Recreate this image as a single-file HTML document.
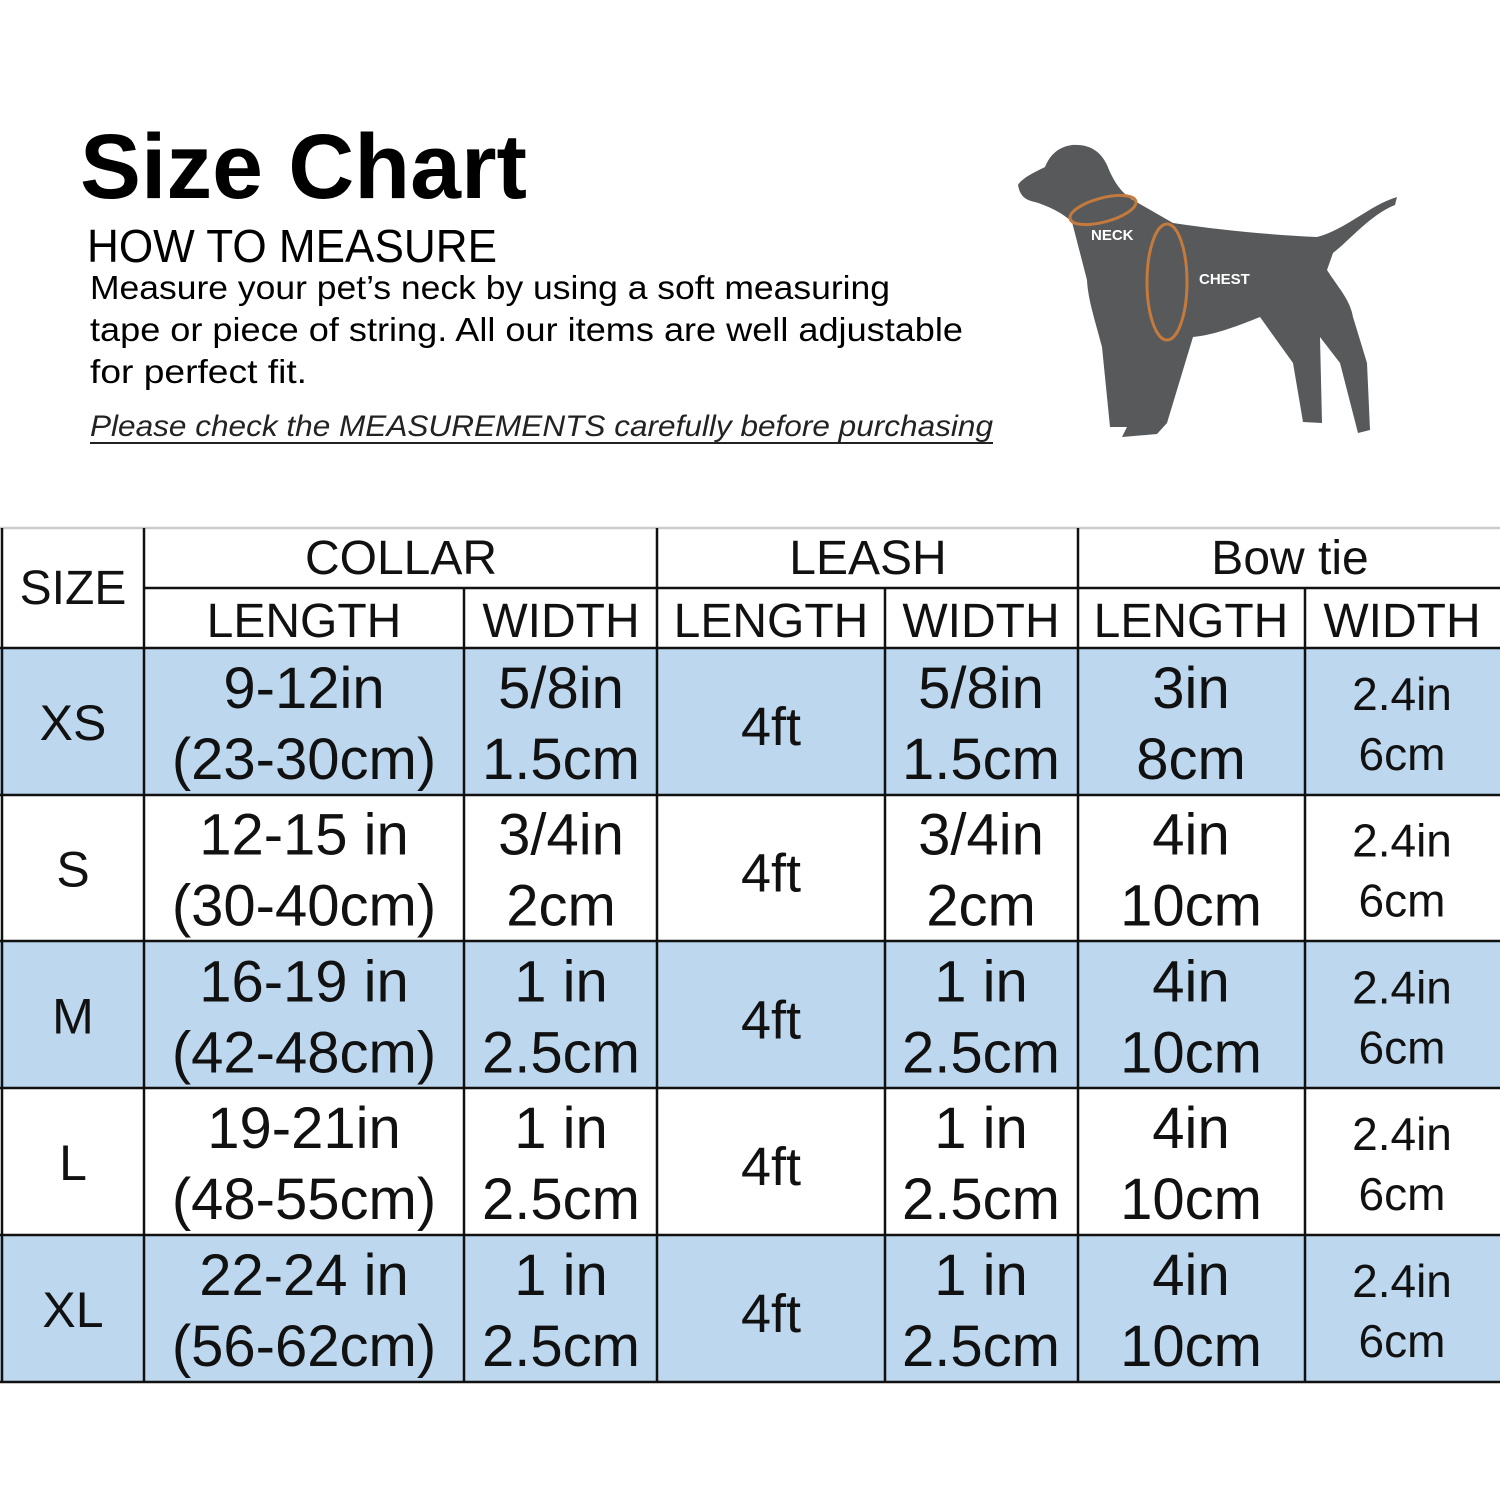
<!DOCTYPE html>
<html><head><style>
html,body{margin:0;padding:0;background:#fff;}
svg{display:block;}
</style></head><body>
<svg width="1500" height="1500" viewBox="0 0 1500 1500" xmlns="http://www.w3.org/2000/svg">
<rect width="1500" height="1500" fill="#fff"/>
<g font-family="Liberation Sans, sans-serif" fill="#000">
<text x="80" y="198" font-size="92" font-weight="bold" textLength="447" lengthAdjust="spacingAndGlyphs">Size Chart</text>
<text x="87" y="262" font-size="46" textLength="410" lengthAdjust="spacingAndGlyphs">HOW TO MEASURE</text>
<text x="90" y="299" font-size="33" textLength="800" lengthAdjust="spacingAndGlyphs">Measure your pet’s neck by using a soft measuring</text>
<text x="90" y="341" font-size="33" textLength="873" lengthAdjust="spacingAndGlyphs">tape or piece of string. All our items are well adjustable</text>
<text x="90" y="383" font-size="33" textLength="217" lengthAdjust="spacingAndGlyphs">for perfect fit.</text>
<text x="90" y="436" font-size="30" font-style="italic" fill="#222" textLength="903" lengthAdjust="spacingAndGlyphs">Please check the MEASUREMENTS carefully before purchasing</text>
<rect x="90" y="442" width="903" height="2" fill="#222"/>
</g>
<!-- dog -->
<path d="M1018,185 C1022,178 1035,172 1045,167 C1050,155 1058,147 1072,145 C1088,144 1100,150 1107,165 C1113,180 1120,192 1133,200 L1173,223 C1220,230 1270,235 1317,237 C1345,230 1370,205 1397,197 L1395,205 C1370,215 1350,240 1333,253 L1327,270 C1340,290 1350,300 1353,317 L1367,363 L1370,430 L1358,433 L1340,363 L1320,337 L1322,423 L1303,422 L1293,363 L1260,317 C1240,325 1215,335 1193,337 L1167,423 L1157,434 L1122,437 L1127,427 L1110,427 L1102,347 C1095,320 1088,300 1087,280 L1072,222 C1062,212 1045,205 1035,202 C1025,200 1020,196 1018,185 Z" fill="#58595b"/>
<ellipse cx="1103" cy="210" rx="34" ry="12" fill="none" stroke="#c47a3c" stroke-width="3" transform="rotate(-15 1103 210)"/>
<ellipse cx="1167" cy="282" rx="20" ry="58" fill="none" stroke="#c47a3c" stroke-width="3"/>
<text x="1091" y="240" font-family="Liberation Sans, sans-serif" font-size="15" font-weight="bold" fill="#fff">NECK</text>
<text x="1199" y="284" font-family="Liberation Sans, sans-serif" font-size="15" font-weight="bold" fill="#fff">CHEST</text>
<!-- table -->
<g fill="#bdd7ee">
<rect x="0" y="648" width="1500" height="147"/>
<rect x="0" y="941" width="1500" height="147"/>
<rect x="0" y="1235" width="1500" height="147"/>
</g>
<g stroke="#111" stroke-width="2.5" fill="none">
<line x1="0" y1="528" x2="1500" y2="528" stroke="#ccc"/>
<line x1="144" y1="588" x2="1500" y2="588"/>
<line x1="0" y1="648" x2="1500" y2="648"/>
<line x1="0" y1="795" x2="1500" y2="795"/>
<line x1="0" y1="941" x2="1500" y2="941"/>
<line x1="0" y1="1088" x2="1500" y2="1088"/>
<line x1="0" y1="1235" x2="1500" y2="1235"/>
<line x1="0" y1="1382" x2="1500" y2="1382"/>
<line x1="2" y1="528" x2="2" y2="1382"/>
<line x1="144" y1="528" x2="144" y2="1382"/>
<line x1="464" y1="588" x2="464" y2="1382"/>
<line x1="657" y1="528" x2="657" y2="1382"/>
<line x1="885" y1="588" x2="885" y2="1382"/>
<line x1="1078" y1="528" x2="1078" y2="1382"/>
<line x1="1305" y1="588" x2="1305" y2="1382"/>
</g>
<g font-family="Liberation Sans, sans-serif" text-anchor="middle" fill="#111">
<g font-size="48">
<text x="73" y="604">SIZE</text>
<text x="401" y="574">COLLAR</text>
<text x="868" y="574">LEASH</text>
<text x="1290" y="574">Bow tie</text>
<text x="304" y="637">LENGTH</text>
<text x="561" y="637">WIDTH</text>
<text x="771" y="637">LENGTH</text>
<text x="981" y="637">WIDTH</text>
<text x="1191" y="637">LENGTH</text>
<text x="1402" y="637">WIDTH</text>
</g>
</g>
<g font-family="Liberation Sans, sans-serif" text-anchor="middle" fill="#111" font-size="58">
<g transform="translate(0,0)">
<text x="73" y="740" font-size="50">XS</text>
<text x="304" y="708">9-12in</text><text x="304" y="779">(23-30cm)</text>
<text x="561" y="708">5/8in</text><text x="561" y="779">1.5cm</text>
<text x="771" y="745" font-size="54">4ft</text>
<text x="981" y="708">5/8in</text><text x="981" y="779">1.5cm</text>
<text x="1191" y="708">3in</text><text x="1191" y="779">8cm</text>
<text x="1402" y="710" font-size="46">2.4in</text><text x="1402" y="770" font-size="46">6cm</text>
</g>
<g transform="translate(0,146.7)">
<text x="73" y="740" font-size="50">S</text>
<text x="304" y="708">12-15 in</text><text x="304" y="779">(30-40cm)</text>
<text x="561" y="708">3/4in</text><text x="561" y="779">2cm</text>
<text x="771" y="745" font-size="54">4ft</text>
<text x="981" y="708">3/4in</text><text x="981" y="779">2cm</text>
<text x="1191" y="708">4in</text><text x="1191" y="779">10cm</text>
<text x="1402" y="710" font-size="46">2.4in</text><text x="1402" y="770" font-size="46">6cm</text>
</g>
<g transform="translate(0,293.4)">
<text x="73" y="740" font-size="50">M</text>
<text x="304" y="708">16-19 in</text><text x="304" y="779">(42-48cm)</text>
<text x="561" y="708">1 in</text><text x="561" y="779">2.5cm</text>
<text x="771" y="745" font-size="54">4ft</text>
<text x="981" y="708">1 in</text><text x="981" y="779">2.5cm</text>
<text x="1191" y="708">4in</text><text x="1191" y="779">10cm</text>
<text x="1402" y="710" font-size="46">2.4in</text><text x="1402" y="770" font-size="46">6cm</text>
</g>
<g transform="translate(0,440.1)">
<text x="73" y="740" font-size="50">L</text>
<text x="304" y="708">19-21in</text><text x="304" y="779">(48-55cm)</text>
<text x="561" y="708">1 in</text><text x="561" y="779">2.5cm</text>
<text x="771" y="745" font-size="54">4ft</text>
<text x="981" y="708">1 in</text><text x="981" y="779">2.5cm</text>
<text x="1191" y="708">4in</text><text x="1191" y="779">10cm</text>
<text x="1402" y="710" font-size="46">2.4in</text><text x="1402" y="770" font-size="46">6cm</text>
</g>
<g transform="translate(0,586.8)">
<text x="73" y="740" font-size="50">XL</text>
<text x="304" y="708">22-24 in</text><text x="304" y="779">(56-62cm)</text>
<text x="561" y="708">1 in</text><text x="561" y="779">2.5cm</text>
<text x="771" y="745" font-size="54">4ft</text>
<text x="981" y="708">1 in</text><text x="981" y="779">2.5cm</text>
<text x="1191" y="708">4in</text><text x="1191" y="779">10cm</text>
<text x="1402" y="710" font-size="46">2.4in</text><text x="1402" y="770" font-size="46">6cm</text>
</g>
</g>
</svg>
</body></html>
